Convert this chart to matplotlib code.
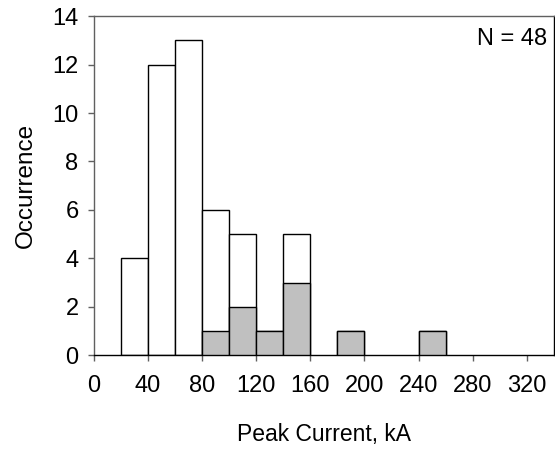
import matplotlib
matplotlib.use("Agg")
import matplotlib.pyplot as plt
import numpy as np

bin_left = [20, 40, 60, 80, 100, 120, 140, 160, 180, 200, 220, 240]
total_counts = [4, 12, 13, 6, 5, 1, 5, 0, 1, 0, 0, 1]
gray_counts = [0, 0, 0, 1, 2, 1, 3, 0, 1, 0, 0, 1]
bin_width = 20
xticks = [0, 40, 80, 120, 160, 200, 240, 280, 320]
yticks = [0, 2, 4, 6, 8, 10, 12, 14]

plt.rcParams['font.family'] = ['Liberation Sans', 'DejaVu Sans']

fig = plt.figure(figsize=(5.55, 4.49), dpi=100)
ax = fig.add_axes([0.169, 0.209, 0.829, 0.755])

for l, t in zip(bin_left, total_counts):
    if t > 0:
        ax.bar(l, t, width=bin_width, align='edge', facecolor='white',
               edgecolor='black', linewidth=1.0, zorder=2)
for l, g in zip(bin_left, gray_counts):
    if g > 0:
        ax.bar(l, g, width=bin_width, align='edge', facecolor='#c0c0c0',
               edgecolor='black', linewidth=1.0, zorder=3)

ax.set_xlim(0, 340)
ax.set_ylim(0, 14)
ax.set_xticks(xticks)
ax.set_yticks(yticks)
ax.tick_params(axis='both', direction='out', length=4, width=1, labelsize=17, colors='black')
ax.tick_params(axis='x', pad=10, color='#606060')
ax.tick_params(axis='y', pad=7, color='#606060')
for s in ['left', 'top']:
    ax.spines[s].set_color('#606060')
for s in ax.spines.values():
    s.set_linewidth(1.0)
ax.spines['bottom'].set_color('black')
ax.spines['right'].set_color('black')

ax.set_xlabel('Peak Current, kA', fontsize=16.5, labelpad=19)
ax.set_ylabel('Occurrence', fontsize=17.5, labelpad=11)
ax.text(0.985, 0.932, 'N = 48', transform=ax.transAxes, ha='right', va='center', fontsize=17)

fig.savefig('out.png', dpi=100)
